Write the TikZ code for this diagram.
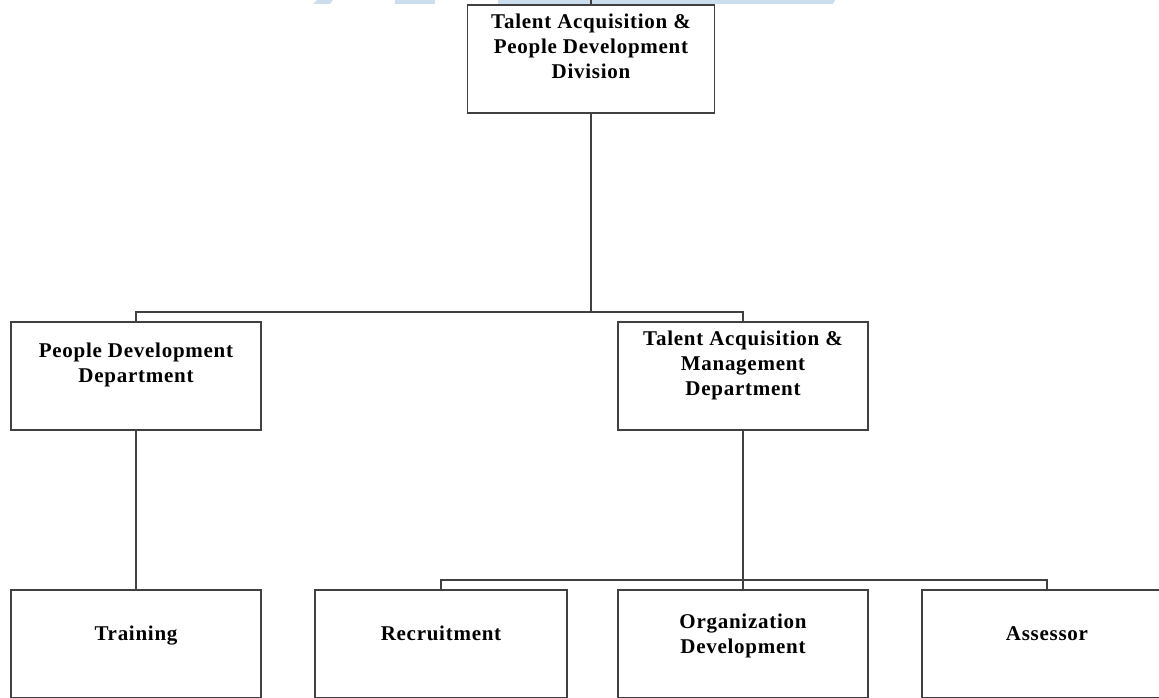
\documentclass[tikz,border=0pt]{standalone}
\usepackage{fontspec}
\newfontfamily\boxfont{Liberation Serif}[LetterSpace=3.5]
\definecolor{linegray}{RGB}{64,64,64}
\definecolor{wmblue}{RGB}{204,222,238}
\tikzset{
  unitbox/.style={draw=linegray, line width=1.3pt, rectangle, inner sep=0pt, minimum height=108pt},
  boxtext/.style={font=\boxfont\bfseries\fontsize{21}{25}\selectfont, align=center, inner sep=0pt, anchor=north},
  link/.style={draw=linegray, line width=1.3pt}
}
\begin{document}
\begin{tikzpicture}[x=1pt,y=-1pt]
\useasboundingbox (0,0) rectangle (1159,698);
% watermark fragments
\fill[wmblue] (313,4) -- (317,0) -- (333,0) -- (330,4) -- cycle;
\fill[wmblue] (395,0) rectangle (435,4);
\fill[wmblue] (498,0) -- (835,0) -- (833,4) -- (498,4) -- cycle;
\begin{scope}
\clip (0,0) rectangle (1159,698);
% boxes
\node[unitbox, minimum width=247pt] (top) at (591,59) {};
\node[unitbox, minimum width=250pt] (pdd) at (136,376) {};
\node[unitbox, minimum width=250pt] (tam) at (743,376) {};
\node[unitbox, minimum width=250pt] (trn) at (136,644) {};
\node[unitbox, minimum width=252pt] (rec) at (441,644) {};
\node[unitbox, minimum width=250pt] (org) at (743,644) {};
\node[unitbox, minimum width=250pt] (ass) at (1047,644) {};
% texts
\node[boxtext] (ttop) at (591,14) {Talent Acquisition \&\\People Development\\Division};
\node[boxtext] (tpdd) at (136,343) {People Development\\Department};
\node[boxtext] (ttam) at (743,331) {Talent Acquisition \&\\Management\\Department};
\node[boxtext] (ttrn) at (136,626) {Training};
\node[boxtext] (trec) at (441,626) {Recruitment};
\node[boxtext] (torg) at (743,614) {Organization\\Development};
\node[boxtext] (tass) at (1047,626) {Assessor};
% connectors
\coordinate (c0) at (591,0);
\coordinate (j1) at (591,312);
\coordinate (j2) at (743,580);
\draw[link] (c0) -- (top.north);
\draw[link] (top.south) -- (j1);
\draw[link] (j1) -| (pdd.north);
\draw[link] (j1) -| (tam.north);
\draw[link] (pdd.south) -- (trn.north);
\draw[link] (tam.south) -- (j2);
\draw[link] (j2) -| (rec.north);
\draw[link] (j2) -| (ass.north);
\draw[link] (j2) -- (org.north);
\end{scope}
\end{tikzpicture}
\end{document}
